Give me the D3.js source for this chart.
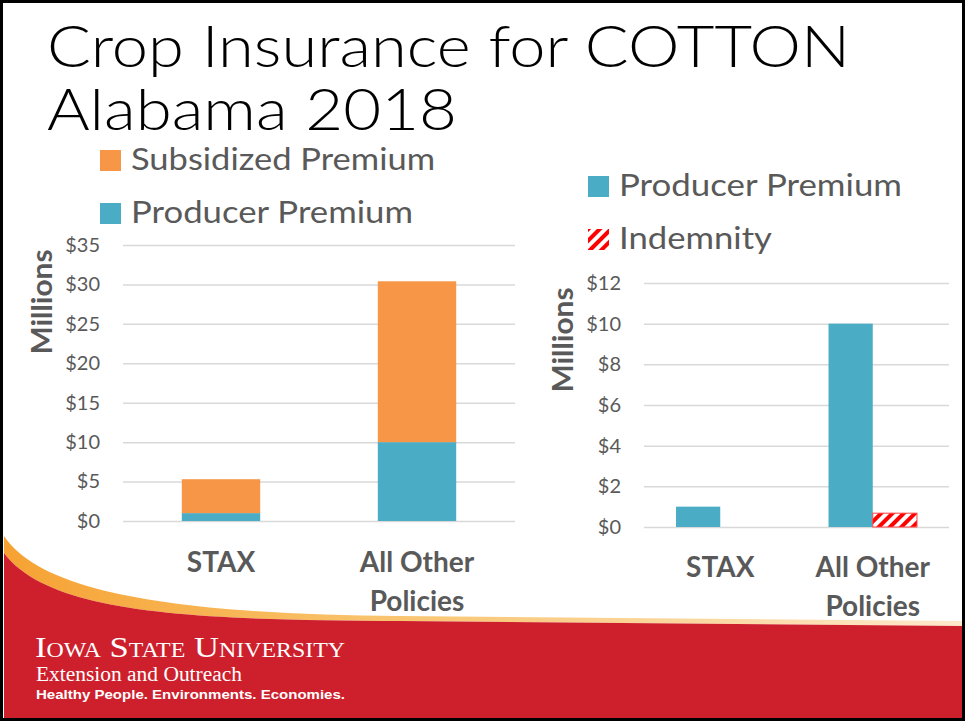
<!DOCTYPE html>
<html>
<head>
<meta charset="utf-8">
<script src="https://cdn.jsdelivr.net/npm/d3@7"></script>
<style>
  body { margin: 0; background: #fff; }
  svg { display: block; }
</style>
</head>
<body>
<div id="vis"></div>
<script>
const WIDTH = 965;
const HEIGHT = 721;

// data, in millions of dollars
const categories = ['STAX', 'All Other Policies'];
const categoryLines = [['STAX'], ['All Other', 'Policies']];
const producerPremium = [1.0, 10.0];
const subsidizedPremium = [4.3, 20.4];
const indemnity = [0, 0.68];
const leftTicks = [0, 5, 10, 15, 20, 25, 30, 35];
const rightTicks = [0, 2, 4, 6, 8, 10, 12];

const BLUE = '#4BACC6';
const ORANGE = '#F79646';
const RED = '#CE1F2D';
const GREY = '#595959';
const GRID = '#D9D9D9';
const FONT = 'Lato, "Open Sans", sans-serif';

const svg = d3.select('#vis')
  .append('svg')
    .attr('width', WIDTH)
    .attr('height', HEIGHT);

const defs = svg.append('defs');

// hatch for indemnity
const hatch = defs.append('pattern')
    .attr('id', 'hatch')
    .attr('patternUnits', 'userSpaceOnUse')
    .attr('width', 8)
    .attr('height', 8)
    .attr('patternTransform', 'rotate(45)');
hatch.append('rect').attr('width', 8).attr('height', 8).attr('fill', '#fff');
hatch.append('rect').attr('width', 4).attr('height', 8).attr('fill', '#FF0000');

const swoosh = defs.append('linearGradient')
    .attr('id', 'swoosh')
    .attr('x1', '0%').attr('x2', '100%');
swoosh.append('stop').attr('offset', '0%').attr('stop-color', '#F6A233');
swoosh.append('stop').attr('offset', '40%').attr('stop-color', '#F9C46E');
swoosh.append('stop').attr('offset', '100%').attr('stop-color', '#FDE9CC');

// bottom banner
svg.append('path')
    .attr('d', 'M4,536 C45,598 200,614 400,616 L962,621 L962,626 L400,621 C200,620 50,615 4,553 Z')
    .attr('fill', 'url(#swoosh)');
svg.append('path')
    .attr('d', 'M4,553 C50,615 200,620 400,621 L962,626 L962,719 L4,719 Z')
    .attr('fill', RED);

// logo text
svg.append('text')
    .attr('x', 35)
    .attr('y', 657)
    .attr('fill', '#fff')
    .attr('font-family', '"Liberation Serif", serif')
    .attr('font-size', 29)
    .style('font-variant', 'small-caps')
    .attr('textLength', 310)
    .attr('lengthAdjust', 'spacingAndGlyphs')
    .text('Iowa State University');

svg.append('text')
    .attr('x', 36).attr('y', 681)
    .attr('fill', '#fff')
    .attr('font-family', '"Liberation Serif", serif')
    .attr('font-size', 20)
    .attr('textLength', 206)
    .attr('lengthAdjust', 'spacingAndGlyphs')
    .text('Extension and Outreach');

svg.append('text')
    .attr('x', 36).attr('y', 699)
    .attr('fill', '#fff')
    .attr('font-family', '"Liberation Sans", Arial, sans-serif')
    .attr('font-weight', 'bold')
    .attr('font-size', 12.5)
    .attr('textLength', 309)
    .attr('lengthAdjust', 'spacingAndGlyphs')
    .text('Healthy People. Environments. Economies.');

// title
const titleLines = [['Crop Insurance for COTTON', 67, 803], ['Alabama 2018', 130, 410]];
titleLines.forEach(([t, y, w]) => {
  svg.append('text')
      .attr('x', 47).attr('y', y)
      .attr('fill', '#000')
      .attr('font-family', FONT)
      .attr('font-weight', 300)
      .attr('font-size', 57)
      .attr('textLength', w)
      .attr('lengthAdjust', 'spacingAndGlyphs')
      .text(t);
});

function legendItem(x, y, fill, label, w) {
  svg.append('rect')
      .attr('x', x).attr('y', y - 20)
      .attr('width', 21).attr('height', 21)
      .attr('fill', fill);
  svg.append('text')
      .attr('x', x + 31).attr('y', y)
      .attr('fill', GREY)
      .attr('font-family', FONT)
      .attr('font-size', 30)
      .attr('textLength', w)
      .attr('lengthAdjust', 'spacingAndGlyphs')
      .text(label);
}

function drawAxes(x0, x1, yScale, ticks, labelX, labelY, catY) {
  const g = svg.append('g')
      .attr('transform', 'translate(' + x0 + ',0)');
  g.call(d3.axisLeft(yScale)
        .tickValues(ticks)
        .tickSize(-(x1 - x0))
        .tickPadding(23)
        .tickFormat(d => '$' + d))
    .call(a => a.select('.domain').remove())
    .call(a => a.selectAll('line').attr('stroke', GRID).attr('stroke-width', 1.5))
    .call(a => a.selectAll('text')
        .attr('fill', GREY)
        .attr('font-family', FONT)
        .attr('font-size', 20));

  svg.append('text')
      .attr('transform', 'translate(' + labelX + ',' + labelY + ') rotate(-90)')
      .attr('text-anchor', 'middle')
      .attr('fill', GREY)
      .attr('font-family', FONT)
      .attr('font-weight', 'bold')
      .attr('font-size', 28)
      .attr('textLength', 105)
      .attr('lengthAdjust', 'spacingAndGlyphs')
      .text('Millions');

  const xScale = d3.scaleBand().domain(categories).range([x0, x1]);
  categories.forEach((c, i) => {
    categoryLines[i].forEach((line, j) => {
      svg.append('text')
          .attr('x', xScale(c) + xScale.bandwidth() / 2)
          .attr('y', catY + j * 39)
          .attr('text-anchor', 'middle')
          .attr('fill', GREY)
          .attr('font-family', FONT)
          .attr('font-weight', 'bold')
          .attr('font-size', 28)
          .text(line);
    });
  });
  return xScale;
}

// left chart: stacked premiums
const yLeft = d3.scaleLinear().domain([0, 35]).range([521, 245]);
const xLeft = drawAxes(123, 515, yLeft, leftTicks, 52, 302, 572);

const stackData = categories.map((c, i) => ({
  cat: c, producer: producerPremium[i], subsidized: subsidizedPremium[i]
}));
const stacked = d3.stack().keys(['producer', 'subsidized'])(stackData);
const stackColors = {producer: BLUE, subsidized: ORANGE};
const leftBarW = xLeft.bandwidth() * 0.4;

svg.append('g').selectAll('g')
  .data(stacked)
  .join('g')
    .attr('fill', d => stackColors[d.key])
  .selectAll('rect')
  .data(d => d)
  .join('rect')
    .attr('x', d => xLeft(d.data.cat) + (xLeft.bandwidth() - leftBarW) / 2)
    .attr('y', d => yLeft(d[1]))
    .attr('width', leftBarW)
    .attr('height', d => yLeft(d[0]) - yLeft(d[1]));

legendItem(100, 170, ORANGE, 'Subsidized Premium', 304);
legendItem(100, 223, BLUE, 'Producer Premium', 282);

// right chart: producer premium vs indemnity
const yRight = d3.scaleLinear().domain([0, 12]).range([527, 283]);
const xRight = drawAxes(644, 949, yRight, rightTicks, 573, 340, 577);

const series = [
  {key: 'Producer Premium', values: producerPremium, fill: BLUE, stroke: 'none'},
  {key: 'Indemnity', values: indemnity, fill: 'url(#hatch)', stroke: '#FF4040'}
];
const xInner = d3.scaleBand()
    .domain(series.map(s => s.key))
    .range([0, xRight.bandwidth() * 0.58]);
const groupOffset = (xRight.bandwidth() - xInner.range()[1]) / 2;

series.forEach(s => {
  svg.append('g').selectAll('rect')
    .data(categories.map((c, i) => ({cat: c, v: s.values[i]})).filter(d => d.v > 0))
    .join('rect')
      .attr('x', d => xRight(d.cat) + groupOffset + xInner(s.key))
      .attr('y', d => yRight(d.v))
      .attr('width', xInner.bandwidth())
      .attr('height', d => yRight(0) - yRight(d.v))
      .attr('fill', s.fill)
      .attr('stroke', s.stroke)
      .attr('stroke-width', 1);
});

legendItem(588, 196, BLUE, 'Producer Premium', 283);
legendItem(588, 249, 'url(#hatch)', 'Indemnity', 153);

// slide frame
svg.append('rect')
    .attr('x', 1.5).attr('y', 1.5)
    .attr('width', WIDTH - 3).attr('height', HEIGHT - 3)
    .attr('fill', 'none')
    .attr('stroke', '#000')
    .attr('stroke-width', 3);
</script>
</body>
</html>
